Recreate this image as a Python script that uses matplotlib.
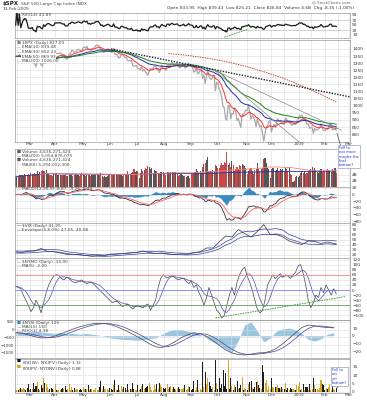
import numpy as np
import pandas as pd
import matplotlib
matplotlib.use("Agg")
import matplotlib.pyplot as plt

# ---------------- data ----------------
# S&P 500 daily closes 14-Feb-2008 .. 13-Feb-2009, one row per month
close = [
    1348, 1349, 1348, 1360, 1342, 1353, 1371, 1381, 1380, 1367, 1331,
    1331, 1327, 1333, 1304, 1294, 1274, 1321, 1308, 1315, 1288, 1277, 1330, 1298, 1329, 1349, 1352, 1341, 1325, 1316, 1323,
    1370, 1367, 1370, 1370, 1373, 1366, 1354, 1360, 1333, 1328, 1334, 1364, 1365, 1390, 1388, 1376, 1380, 1389, 1397, 1396, 1390, 1386,
    1409, 1414, 1407, 1419, 1393, 1398, 1389, 1403, 1403, 1408, 1424, 1426, 1427, 1413, 1390, 1395, 1376, 1385, 1390, 1399, 1400,
    1386, 1378, 1377, 1404, 1361, 1361, 1358, 1336, 1340, 1360, 1361, 1350, 1338, 1342, 1318, 1318, 1314, 1322, 1284, 1278, 1280,
    1284, 1261, 1262, 1252, 1274, 1245, 1254, 1239, 1229, 1215, 1245, 1260, 1260, 1261, 1278, 1283, 1252, 1257, 1234, 1264, 1284, 1267,
    1260, 1249, 1285, 1290, 1267, 1297, 1305, 1290, 1286, 1293, 1298, 1278, 1266, 1275, 1278, 1292, 1267, 1271, 1281, 1300, 1283,
    1277, 1275, 1237, 1242, 1268, 1225, 1230, 1250, 1252, 1193, 1214, 1157, 1207, 1255, 1208, 1189, 1186, 1210, 1213, 1106, 1166,
    1161, 1115, 1099, 1057, 997, 985, 910, 899, 1003, 998, 908, 946, 941, 986, 956, 897, 909, 877, 848, 941, 931, 955, 969,
    966, 1006, 953, 905, 931, 920, 899, 853, 912, 873, 851, 860, 807, 752, 800, 852, 858, 888, 896,
    816, 849, 870, 846, 876, 909, 889, 899, 873, 880, 868, 913, 904, 885, 888, 872, 863, 869, 873, 870, 890, 903,
    932, 927, 935, 907, 910, 891, 871, 872, 842, 844, 850, 806, 841, 828, 832, 837, 846, 874, 845, 826,
    825, 838, 832, 845, 869, 870, 828, 834, 835, 827,
]

# daily volume, billions of shares
volume = [
    3.6, 3.3, 3.6, 3.8, 3.9, 3.9, 3.6, 4.2, 4.0, 3.9, 4.4,
    4.1, 4.5, 4.3, 4.4, 4.6, 4.3, 5.4, 4.2, 4.9, 5.2, 5.7, 5.3, 5.4, 5.6, 4.2, 4.3, 4.0, 4.0, 3.6, 4.3,
    4.7, 4.6, 4.0, 3.9, 3.9, 4.1, 4.0, 4.0, 4.3, 3.6, 3.7, 4.2, 4.1, 4.2, 3.6, 4.1, 4.4, 4.3, 4.0, 3.6, 4.3, 4.7,
    4.3, 4.1, 3.6, 4.0, 4.1, 3.9, 3.5, 3.9, 4.1, 4.4, 3.8, 3.8, 3.9, 4.2, 4.5, 3.6, 3.3, 3.5, 3.3, 3.7, 3.9,
    3.9, 4.4, 4.3, 4.1, 4.2, 3.9, 4.2, 4.4, 4.3, 4.1, 3.7, 3.9, 4.4, 4.4, 5.2, 4.1, 4.2, 4.6, 4.9, 6.0, 5.0,
    5.1, 5.1, 2.8, 4.7, 5.8, 5.2, 5.6, 6.1, 6.0, 7.0, 6.5, 5.8, 6.1, 4.6, 5.5, 5.3, 5.1, 4.2, 4.7, 5.0, 4.9, 5.0,
    4.2, 4.1, 4.8, 4.9, 4.4, 4.9, 4.8, 4.9, 4.8, 4.8, 4.5, 3.6, 4.0, 4.3, 3.8, 3.7, 3.5, 3.3, 3.7, 3.7, 3.1,
    4.4, 4.3, 4.6, 4.8, 5.8, 5.1, 4.9, 5.4, 4.6, 6.6, 7.5, 7.8, 9.0, 10.0, 5.3, 5.4, 4.8, 5.5, 5.2, 7.3, 6.8,
    6.2, 6.2, 7.1, 7.9, 7.3, 8.2, 8.0, 11.5, 7.3, 8.0, 6.5, 8.5, 7.4, 5.2, 5.8, 6.6, 6.0, 7.1, 6.9, 7.5, 7.1, 6.8, 6.1,
    4.2, 5.4, 5.8, 6.1, 5.2, 4.4, 5.6, 5.8, 7.8, 6.0, 5.1, 6.0, 6.4, 9.1, 9.5, 7.9, 6.1, 5.8, 2.8,
    5.9, 6.4, 6.2, 5.4, 5.6, 6.1, 5.3, 5.8, 5.6, 5.8, 4.9, 6.3, 5.9, 5.3, 6.7, 4.4, 4.1, 1.5, 1.9, 3.3, 3.6, 3.4,
    3.6, 4.6, 5.4, 4.7, 4.8, 4.4, 4.6, 5.0, 5.7, 6.0, 6.5, 5.7, 6.1, 5.5, 5.0, 4.5, 5.1, 6.0, 4.9, 5.2,
    5.3, 5.4, 5.9, 5.6, 5.3, 5.0, 6.0, 5.1, 6.1, 4.6,
]

# daily up/down volume ratio of the dominant side (gold on up days, black on down days)
breadth = [
    1.2, 1.1, 1.3, 2.0, 2.2, 1.8, 2.5, 1.9, 1.1, 2.1, 4.5,
    1.1, 1.5, 1.6, 5.5, 1.8, 3.8, 6.0, 1.7, 1.4, 4.0, 2.5, 8.0, 5.5, 4.5, 3.0, 1.2, 1.8, 2.2, 1.6, 1.3,
    5.0, 1.2, 1.4, 1.1, 1.3, 1.8, 2.2, 1.5, 3.5, 1.4, 1.6, 5.0, 1.1, 3.0, 1.2, 2.3, 1.4, 1.9, 1.7, 1.2, 1.6, 1.4,
    3.2, 1.5, 1.6, 2.0, 4.0, 1.3, 1.8, 2.0, 1.1, 1.4, 2.1, 1.3, 1.1, 3.0, 6.5, 1.4, 3.8, 2.0, 1.6, 1.9, 1.2,
    2.2, 1.9, 1.3, 4.0, 7.0, 1.2, 1.4, 4.2, 1.3, 3.5, 1.5, 2.8, 2.4, 1.2, 4.6, 1.3, 2.0, 1.8, 5.5, 1.6, 1.2,
    1.4, 4.2, 1.1, 1.8, 3.3, 5.0, 1.8, 2.5, 2.7, 3.5, 5.5, 3.0, 1.3, 1.2, 4.0, 1.9, 4.8, 1.5, 5.2, 4.0, 3.0, 2.2,
    1.7, 2.6, 4.6, 1.9, 3.0, 3.3, 1.6, 2.7, 1.8, 1.5, 1.6, 3.0, 2.0, 1.8, 1.5, 2.5, 4.2, 1.4, 1.9, 3.5, 2.8,
    1.3, 1.5, 6.5, 1.2, 3.0, 7.0, 1.2, 2.0, 1.3, 18.0, 2.8, 12.0, 5.0, 8.0, 6.0, 3.5, 1.6, 3.2, 1.1, 19.0, 5.5,
    1.5, 8.5, 2.5, 4.5, 13.0, 3.5, 11.0, 1.8, 19.0, 1.6, 8.0, 3.5, 1.3, 4.0, 3.0, 6.5, 1.8, 2.5, 4.0, 9.0, 1.2, 2.6, 2.0,
    1.3, 5.0, 6.0, 6.5, 2.6, 1.6, 2.8, 6.0, 6.5, 4.0, 2.2, 1.5, 16.0, 12.0, 5.5, 7.0, 1.3, 3.5, 1.8,
    8.0, 3.0, 2.5, 3.2, 3.0, 4.0, 2.5, 1.5, 3.0, 1.5, 1.8, 5.5, 1.4, 2.4, 1.2, 2.2, 1.6, 1.7, 1.3, 1.2, 4.0, 3.5,
    6.0, 1.3, 2.0, 4.5, 1.3, 3.0, 3.2, 1.1, 5.0, 1.4, 1.5, 8.0, 4.0, 2.0, 1.5, 1.3, 2.5, 7.0, 4.8, 4.0,
    1.3, 2.5, 1.6, 2.8, 5.0, 1.2, 6.5, 1.5, 1.2, 2.6,
]

# McClellan oscillator, every 2nd trading day
nymo = [
    15, 10, 5, -20, -40, -60, -85, -70, -40, -60, -90, -50, -10, 20, 40, 55, 60, 58, 45, 40,
    50, 45, 35, 30, 30, 35, 40, 30, 25, 30, 30, 20, 10, 0, -10, -20, -30, -40, -50, -45,
    -45, -55, -65, -60, -55, -65, -75, -65, -60, -65, -70, -60, -55, -80, -60, -40, 10, 45, 60, 50,
    50, 55, 55, 45, 40, 45, 45, 35, 25, 35, 10, 20, -10, -30, -60, -30, 10, -20, -50, -80,
    -90, -110, -100, -60, -20, 10, -20, 30, 60, 80, 90, 55, 30, 0, -40, -75, -90, -80, -40, 20,
    40, 60, 45, 55, 65, 50, 60, 55, 45, 60, 70, 95, 100, 65, 20, -40, -70, -50, -20, -30,
    10, -10, 20, 0, -20, 5, -15,
]

# weekly series (every 5th trading day)
vix = [25.0, 24.2, 26.5, 27.0, 32.0, 26.0, 25.7, 23.0, 20.5, 20.0, 20.0, 18.0, 16.5, 18.0, 18.0,
       21.0, 21.0, 22.0, 23.0, 24.0, 27.0, 24.0, 22.0, 23.0, 21.0, 20.0, 21.0, 20.5, 24.0, 25.5,
       33.0, 33.0, 45.0, 57.0, 55.0, 70.0, 62.0, 55.0, 66.0, 80.0, 60.0, 60.0, 55.0, 47.0, 43.0,
       40.0, 47.0, 46.0, 42.0, 45.0, 41.25]
nysi = [-200, -220, -330, -450, -530, -520, -430, -280, -120, 40, 180, 290, 380, 420, 400,
        320, 180, 0, -200, -420, -650, -900, -1100, -1150, -1000, -780, -520, -330, -200, -250,
        -420, -700, -1000, -1300, -1500, -1600, -1630, -1580, -1500, -1480, -1400, -1200, -900, -550, -200,
        150, 300, 250, 180, 150, 120]
nysi_hist = [2, 4, 5, 6, 5, 4, 3, 4, 3, 3, 2, 3, 2, 1, -1, -3, -4, -5, -5, -6, -5, -4, -3, 2, 6,
             8, 8, 6, 5, 2, -3, -8, -12, -17, -22, -6, 14, 18, 6, -8, -3, 6, 9, 10, 8, 3, -5, -7, -4, 2, 4]

# 200-day average (starts in August on the chart)
ma200_idx = [120, 135, 150, 165, 180, 195, 210, 225, 240, 252]
ma200_val = [1368, 1355, 1336, 1312, 1280, 1240, 1195, 1140, 1080, 1026]

# hand-drawn trendlines (trading-day index, value)
tl_dotted = ([75, 263], [1400, 1062])
tl_fan1 = ([156, 256], [1252, 829])
tl_fan2 = ([156, 226], [1252, 720])
tl_rsi = ([164, 183], [1, 34])
tl_nymo = ([157, 259], [-110, -26])

months = ['Mar', 'Apr', 'May', 'Jun', 'Jul', 'Aug', 'Sep', 'Oct', 'Nov', 'Dec', '2009', 'Feb', 'Mar']

# ---------------- derived indicators ----------------
c = pd.Series(close, dtype=float)
x = np.arange(len(c))
ema10 = c.ewm(span=10, adjust=False).mean()
ema30 = c.ewm(span=30, adjust=False).mean()
ema50 = c.ewm(span=50, adjust=False).mean()
d = np.diff(np.asarray(close, dtype=float), prepend=close[0])
gain = pd.Series(np.where(d > 0, d, 0.0)).ewm(alpha=1 / 14, adjust=False).mean().to_numpy()
loss = pd.Series(np.where(d < 0, -d, 0.0)).ewm(alpha=1 / 14, adjust=False).mean().to_numpy()
tot = gain + loss
rsi = np.full(len(close), 50.0)
rsi[tot > 0] = 100.0 * gain[tot > 0] / tot[tot > 0]
macd = c.ewm(span=12, adjust=False).mean() - c.ewm(span=26, adjust=False).mean()
signal = macd.ewm(span=9, adjust=False).mean()
hist = macd - signal

vol = pd.Series(volume)
xv = np.arange(len(vol))
upday = np.r_[True, np.diff(close) >= 0]
br = np.array(breadth)
xb = np.arange(len(br))

xw = np.arange(len(vix)) * 5
xw[-1] = len(close) - 1
vix_s = pd.Series(vix)
vix_mid = vix_s.rolling(4, min_periods=1).mean()
xn = np.arange(len(nymo)) * 2
nymo_ma = pd.Series(nymo).rolling(5, min_periods=1).mean()
xs = np.arange(len(nysi)) * 5
nysi_ma = pd.Series(nysi).rolling(3, min_periods=1).mean()

# trading calendar for the month ticks
hol = pd.to_datetime(['2008-02-18', '2008-03-21', '2008-05-26', '2008-07-04', '2008-09-01',
                      '2008-11-27', '2008-12-25', '2009-01-01', '2009-01-19', '2009-02-16'])
days = pd.bdate_range('2008-02-14', '2009-03-10')
days = days[~days.isin(hol)]
month_pos = [i for i in range(1, len(days)) if days[i].month != days[i - 1].month]
mid_pos = [i for i in range(1, len(days)) if days[i].day >= 15 and days[i - 1].day < 15]
x_end = month_pos[12] + 0.8

# ---------------- figure ----------------
W, H = 367, 400
fig = plt.figure(figsize=(W / 100, H / 100), dpi=100)
FS = 3.1
GRID = '#dcdcdc'
EDGE = '#9a9a9a'


def panel(top, bottom):
    ax = fig.add_axes([15 / W, 1 - bottom / H, 335 / W, (bottom - top) / H])
    ax.set_xlim(-0.5, x_end)
    for p in month_pos + mid_pos:
        ax.axvline(p, color=GRID, lw=0.4, zorder=0)
    ax.set_xticks([])
    ax.yaxis.tick_right()
    ax.tick_params(axis='y', labelsize=FS, length=0, pad=1.5, colors='#333333')
    ax.grid(axis='y', color=GRID, lw=0.4)
    ax.set_axisbelow(True)
    for s in ax.spines.values():
        s.set_color(EDGE)
        s.set_linewidth(0.5)
    return ax


def legend(ax, rows, y_px, dy_px=4.6, box=False):
    # rows start y_px pixels below the panel top
    h = ax.get_position().height * H
    for i, (mark, col, txt) in enumerate(rows):
        y = 1 - (y_px + i * dy_px) / h
        ax.text(0.004, y, mark, color=col, fontsize=FS, transform=ax.transAxes, va='top', zorder=6)
        ax.text(0.02, y, txt, color='#444444', fontsize=FS, transform=ax.transAxes, va='top', zorder=6,
                bbox=dict(fc='white', ec='none', pad=0.2) if box else None)


# header
fig.text(3 / W, 1 - 1.5 / H, '$SPX', fontsize=4.0, weight='bold', va='top', color='#222222')
fig.text(21 / W, 1 - 2 / H, 'S&P 500 Large Cap Index INDX', fontsize=FS, va='top', color='#444444')
fig.text(3 / W, 1 - 7.5 / H, '13-Feb-2009', fontsize=FS, va='top', color='#444444')
fig.text(350 / W, 1 - 0.8 / H, '@ StockCharts.com', fontsize=FS - 0.3, va='top', ha='right', color='#666666')
fig.text(354 / W, 1 - 6.3 / H,
         'Open 833.95  High 839.43  Low 825.21  Close 826.84  Volume 4.6B  Chg -8.35 (-1.00%)',
         fontsize=FS, va='top', ha='right', color='#333333')

# RSI
ax = panel(12.5, 37.5)
ax.set_ylim(0, 100)
ax.axhline(70, color='#b0b0b0', lw=0.4, zorder=1)
ax.axhline(30, color='#b0b0b0', lw=0.4, zorder=1)
ax.fill_between(x, 70, rsi, where=rsi > 70, color='#3c8c3c', lw=0, interpolate=True, zorder=2)
ax.fill_between(x, 30, rsi, where=rsi < 30, color='#8c4a40', lw=0, interpolate=True, zorder=2)
ax.plot(x, rsi, '-', color='#1a1a1a', lw=0.9, zorder=10)
ax.plot(*tl_rsi, color='#2e9a2e', lw=0.6, ls=(0, (2, 1)), zorder=11)
ax.set_yticks([10, 30, 50, 70, 90])
ax.grid(False)
legend(ax, [('\u25b2', '#2e8b2e', 'RSI(14) %.2f' % rsi[-1])], 0.3)

# price
ax = panel(40, 142)
ax.plot(x, c, color='#a8a8a8', lw=0.9)
ax.plot(x, ema10, color='#ff3030', lw=0.7)
ax.plot(x, ema30, color='#2030a0', lw=0.7)
ax.plot(x, ema50, color='#208020', lw=0.7)
ax.plot(ma200_idx, ma200_val, color='#c05040', lw=0.7, ls=(0, (1.5, 1)))
ax.plot(*tl_dotted, color='#222222', lw=1.0, ls=(0, (1, 1)))
ax.plot(*tl_fan1, color='#888888', lw=0.5)
ax.plot(*tl_fan2, color='#888888', lw=0.5)
ax.set_ylim(745, 1463)
ax.set_yticks(np.arange(800, 1401, 50))
legend(ax, [('\u25a0', '#888888', '$SPX (Daily) %.2f' % c.iloc[-1]),
            ('\u2014', '#ff3030', 'EMA(10) %.2f' % ema10.iloc[-1]),
            ('\u2014', '#2030a0', 'EMA(30) %.2f' % ema30.iloc[-1]),
            ('\u2014', '#208020', 'EMA(50) %.2f' % ema50.iloc[-1]),
            ('\u2014', '#c05040', 'MA(200) %.2f' % ma200_val[-1])], 0.8, 4.6, box=True)
for p, m in zip(month_pos, months):
    ax.text(p, 745, m, fontsize=FS, ha='center', va='top', color='#444444', clip_on=False)
ax.annotate('', xy=(len(c) - 1, c.iloc[-1]), xytext=(len(c) + 3, 700),
            arrowprops=dict(arrowstyle='-', color='#444444', lw=0.5), annotation_clip=False)
fig.text(339 / W, 1 - 146 / H, 'Fell to\nnot more\nmaybe the\nfinal\nbottom?', fontsize=2.6, va='top',
         color='#2233cc', linespacing=1.1, bbox=dict(fc='white', ec='#8888aa', lw=0.4, pad=0.8))

# volume
ax = panel(149, 187)
ax.bar(xv, vol, width=0.85, color=np.where(upday[:len(vol)], '#555555', '#c84848'), lw=0)
ax.plot(xv, vol.rolling(200, min_periods=1).mean(), color='#2030b0', lw=0.6)
ax.plot(xv, vol.rolling(60, min_periods=20).mean(), color='#ff8080', lw=0.6)
ax.set_ylim(0, 12.5)
ax.set_yticks([2, 4])
ax.set_yticklabels(['2B', '4B'])
legend(ax, [('\u25a0', '#555555', 'Volume 4,636,271,424'),
            ('\u2014', '#2030b0', 'MA(200) 5,054,876,075'),
            ('\u25a0', '#555555', 'Volume 4,636,271,424'),
            ('\u2014', '#ff6060', 'MA(60) 5,294,012,300')], 0.8, 4.3)

# MACD
ax = panel(187, 223)
ax.fill_between(x, 0, hist * 1.2, color='#3a8cc0', lw=0)
ax.plot(x, macd, color='#333333', lw=0.6)
ax.plot(x, signal, color='#ff6060', lw=0.6)
ax.set_ylim(-86, 23)
ax.set_yticks([-80, -60, -40, -20, 0, 20])
legend(ax, [('\u2014', '#333333', 'MACD(12,26,9) %.2f, %.2f, %.2f' % (macd.iloc[-1], signal.iloc[-1], hist.iloc[-1]))],
       0.3)

# VIX
ax = panel(223, 257.5)
ax.plot(xw, vix, color='#333333', lw=0.5)
ax.plot(xw, vix_mid * 1.08, color='#3040a0', lw=0.5)
ax.plot(xw, vix_mid * 0.92, color='#3040a0', lw=0.5)
ax.set_ylim(14, 83)
ax.set_yticks([20, 30, 40, 50, 60, 70, 80])
legend(ax, [('\u2014', '#333333', '$VIX (Daily) 41.25'),
            ('\u2014', '#3040a0', 'Envelope(4,8.0%%) %.2f, %.2f' % (vix_mid.iloc[-1] * 1.08, vix_mid.iloc[-1] * 0.92))],
       0.8, 4.3)

# McClellan oscillator
ax = panel(257.5, 320)
ax.plot(xn, nymo, color='#444444', lw=0.5)
ax.plot(xn, nymo_ma, color='#5050b0', lw=0.5)
ax.axhline(60, color='#ff8080', lw=0.6)
ax.axhline(0, color='#8080ff', lw=0.6)
ax.axhline(-60, color='#60a060', lw=0.6)
ax.plot(*tl_nymo, color='#2e9a2e', lw=0.6, ls=(0, (2, 1)))
ax.set_ylim(-118, 128)
ax.set_yticks(np.arange(-100, 121, 20))
legend(ax, [('\u2014', '#444444', '$NYMO (Daily) %.2f' % nymo[-1]),
            ('\u2014', '#5050b0', 'MA(5) %.2f' % nymo_ma.iloc[-1])], 2.5, 4.3)

# summation index
ax = panel(320, 358)
ax2 = ax.twinx()
ax2.fill_between(xs, 0, nysi_hist, color='#9cc6e0', lw=0)
ax2.set_ylim(-29, 20.5)
ax2.set_yticks([-20, -10, 0, 10])
ax2.tick_params(axis='y', labelsize=FS, length=0, pad=1.5, colors='#333333')
ax.set_zorder(ax2.get_zorder() + 1)
ax.patch.set_visible(False)
ax.plot(xs, nysi, color='#444444', lw=0.5)
ax.plot(xs, nysi_ma, color='#4040a0', lw=0.5)
ax.set_ylim(-1823, 629)
ax.yaxis.tick_left()
ax.set_yticks([-1500, -1000, -500, 0, 500])
ax.tick_params(axis='y', labelsize=2.9, length=0, pad=0.6)
for s in ax2.spines.values():
    s.set_visible(False)
legend(ax, [('\u25a0', '#3a8cc0', '$NYSI (Daily) %d' % nysi[-1]),
            ('\u2014', '#4040a0', 'MA(10) %d' % nysi_ma.iloc[-1]),
            ('\u2014', '#444444', 'ROC(1) 4.38')], 0.8, 4.3)

# up/down volume ratio bars
ax = panel(359, 393)
ratio_col = np.where(upday[:len(br)], '#d4a017', '#111111')
ax.bar(xb, 1 / br, width=0.8, color=np.where(upday[:len(br)], '#111111', '#d4a017'), lw=0)
ax.bar(xb, br, width=0.8, color=ratio_col, lw=0, alpha=0.95)
ax.set_ylim(-0.6, 19.5)
ax.set_yticks([0, 5, 10, 15])
legend(ax, [('\u25a0', '#111111', '$NYDNV:$NYUPV (Daily) 1.13'),
            ('\u25a0', '#d4a017', '$NYUPV:$NYDNV (Daily) 0.88')], 0.2, 5.6)
for p, m in zip(month_pos, months):
    ax.text(p, -0.6, m, fontsize=FS, ha='center', va='top', color='#444444', clip_on=False)
ax.annotate('', xy=(len(c) - 1, 0.5), xytext=(len(c) + 1, 7),
            arrowprops=dict(arrowstyle='-', color='#333333', lw=0.5), annotation_clip=False)
fig.text(332 / W, 1 - 368 / H, 'Fell to\nnot\nyet\nbottom?', fontsize=2.6, va='top',
         color='#2233cc', linespacing=1.1, bbox=dict(fc='white', ec='#8888aa', lw=0.4, pad=0.8))

fig.savefig('out.png', dpi=100)
